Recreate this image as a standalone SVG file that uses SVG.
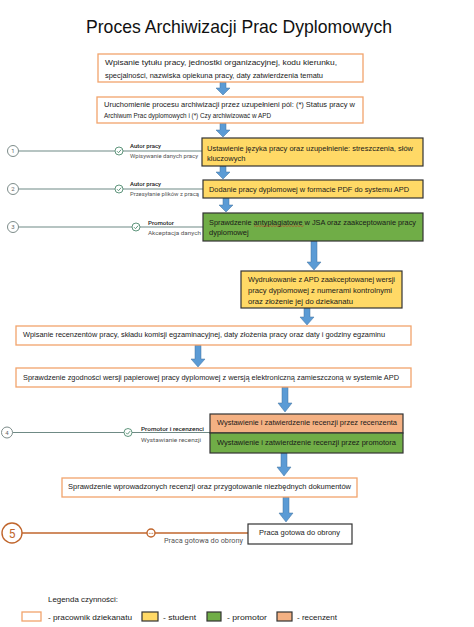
<svg xmlns="http://www.w3.org/2000/svg" width="474" height="627" viewBox="0 0 474 627">
<style>
.bg{fill:#ffffff}
.title{font-family:"Liberation Sans",Arial,sans-serif;font-size:19px;fill:#111}
.t{font-family:"Liberation Sans",Arial,sans-serif;font-size:7.5px;fill:#1a1a1a}
.tl{font-family:Roboto,"Liberation Sans",sans-serif;font-size:6px;fill:#555}
.tlb{font-family:Roboto,"Liberation Sans",sans-serif;font-size:6px;fill:#222;font-weight:500}
.dz{fill:#ffffff;stroke:#F2A46C;stroke-width:1.3}
.st{fill:#FFD966;stroke:#333;stroke-width:1.2}
.pr{fill:#70AD47;stroke:#333;stroke-width:1.2}
.rc{fill:#F4B183;stroke:#333;stroke-width:1.2}
.fin{fill:#ffffff;stroke:#333;stroke-width:1.2}
.arr{fill:#5B9BD5;stroke:#41719C;stroke-width:0.5}
.tline{stroke:#6F8A85;stroke-width:1.2;fill:none}
.tcirc{fill:#fff;stroke:#7D8C8A;stroke-width:1}
.tnum{font-family:Roboto,"Liberation Sans",sans-serif;font-size:6px;fill:#666;text-anchor:middle}
.chk{fill:#fff;stroke:#4E8A6E;stroke-width:0.9}
.chkm{fill:none;stroke:#4E8A6E;stroke-width:0.9}
.o5{stroke:#C0662D;stroke-width:1.3;fill:none}
.o5c{fill:#fff;stroke:#C0662D;stroke-width:1.4}
</style>
<rect class="bg" x="0" y="0" width="474" height="627"/>
<text class="title" x="86" y="33" textLength="306" lengthAdjust="spacingAndGlyphs">Proces Archiwizacji Prac Dyplomowych</text>

<g id="connectors">
<path class="arr" d="M220,82 L226,82 L226,88 L230,88 L223,95 L216,88 L220,88 Z"/>
<path class="arr" d="M220,123 L226,123 L226,130 L230,130 L223,137 L216,130 L220,130 Z"/>
<path class="arr" d="M220,166 L226,166 L226,172 L230,172 L223,179 L216,172 L220,172 Z"/>
<path class="arr" d="M223,198 L229,198 L229,205 L233,205 L226,212 L219,205 L223,205 Z"/>
<path class="arr" d="M311,241 L317,241 L317,262 L321,262 L314,270 L307,262 L311,262 Z"/>
<path class="arr" d="M304,308 L310,308 L310,317 L314,317 L307,325 L300,317 L304,317 Z"/>
<path class="arr" d="M195,345 L201,345 L201,359 L205,359 L198,367 L191,359 L195,359 Z"/>
<path class="arr" d="M282,387 L288,387 L288,403 L292,403 L285,412 L278,403 L282,403 Z"/>
<path class="arr" d="M281,453 L287,453 L287,467 L291,467 L284,476 L277,467 L281,467 Z"/>
<path class="arr" d="M283,497 L289,497 L289,513 L293,513 L286,522 L279,513 L283,513 Z"/>
</g>

<g id="timeline1">
<line class="tline" x1="18.5" y1="151" x2="115" y2="151"/>
<line class="tline" x1="123" y1="151" x2="202" y2="151"/>
<circle class="tcirc" cx="13" cy="151" r="5.5"/>
<text class="tnum" x="13" y="153.2">1</text>
<circle class="chk" cx="119" cy="151" r="4"/>
<path class="chkm" d="M117,151.2 L118.5,152.7 L121.2,149.6"/>
<text class="tlb" x="130" y="148" textLength="31" lengthAdjust="spacingAndGlyphs">Autor pracy</text>
<text class="tl" x="130" y="158" textLength="68" lengthAdjust="spacingAndGlyphs">Wpisywanie danych pracy</text>
</g>
<g id="timeline2">
<line class="tline" x1="18.5" y1="189" x2="115" y2="189"/>
<line class="tline" x1="123" y1="189" x2="203" y2="189"/>
<circle class="tcirc" cx="13" cy="189" r="5.5"/>
<text class="tnum" x="13" y="191.2">2</text>
<circle class="chk" cx="119" cy="189" r="4"/>
<path class="chkm" d="M117,189.2 L118.5,190.7 L121.2,187.6"/>
<text class="tlb" x="130" y="186" textLength="31" lengthAdjust="spacingAndGlyphs">Autor pracy</text>
<text class="tl" x="130" y="196" textLength="69" lengthAdjust="spacingAndGlyphs">Przesyłanie plików z pracą</text>
</g>
<g id="timeline3">
<line class="tline" x1="18.5" y1="227" x2="132" y2="227"/>
<line class="tline" x1="140" y1="227" x2="203" y2="227"/>
<circle class="tcirc" cx="13" cy="227" r="5.5"/>
<text class="tnum" x="13" y="229.2">3</text>
<circle class="chk" cx="136" cy="227" r="4"/>
<path class="chkm" d="M134,227.2 L135.5,228.7 L138.2,225.6"/>
<text class="tlb" x="148" y="224.5" textLength="26" lengthAdjust="spacingAndGlyphs">Promotor</text>
<text class="tl" x="148" y="234.5" textLength="53" lengthAdjust="spacingAndGlyphs">Akceptacja danych</text>
</g>
<g id="timeline4">
<line class="tline" x1="12.5" y1="432.5" x2="124" y2="432.5"/>
<line class="tline" x1="132" y1="432.5" x2="210" y2="432.5"/>
<circle class="tcirc" cx="7" cy="432.5" r="5.5"/>
<text class="tnum" x="7" y="434.7">4</text>
<circle class="chk" cx="128" cy="432.5" r="4"/>
<path class="chkm" d="M126,432.7 L127.5,434.2 L130.2,431.1"/>
<text class="tlb" x="141" y="430.5" textLength="63" lengthAdjust="spacingAndGlyphs">Promotor i recenzenci</text>
<text class="tl" x="141" y="441.5" textLength="60" lengthAdjust="spacingAndGlyphs">Wystawianie recenzji</text>
</g>
<g id="timeline5">
<line class="o5" x1="22" y1="533" x2="147" y2="533"/>
<line class="o5" x1="155" y1="533" x2="248" y2="533"/>
<circle class="o5c" cx="12" cy="533" r="10"/>
<text x="12" y="537.5" font-family="Roboto,'Liberation Sans',sans-serif" font-size="12" fill="#C0662D" text-anchor="middle">5</text>
<circle class="o5c" cx="151" cy="533" r="4" stroke-width="1.1"/>
<circle cx="149.3" cy="533.3" r="0.55" fill="#C0662D"/>
<circle cx="151" cy="533.3" r="0.55" fill="#C0662D"/>
<circle cx="152.7" cy="533.3" r="0.55" fill="#C0662D"/>
<text class="tl" x="164" y="542.5" textLength="79" lengthAdjust="spacingAndGlyphs" style="font-size:6.5px">Praca gotowa do obrony</text>
</g>

<g id="node1">
<rect class="dz" x="98" y="54" width="265" height="28"/>
<text class="t" x="105" y="64.5" textLength="232" lengthAdjust="spacingAndGlyphs">Wpisanie tytułu pracy, jednostki organizacyjnej, kodu kierunku,</text>
<text class="t" x="105" y="77.5" textLength="218" lengthAdjust="spacingAndGlyphs">specjalności, nazwiska opiekuna pracy, daty zatwierdzenia tematu</text>
</g>
<g id="node2">
<rect class="dz" x="97" y="97" width="266" height="26"/>
<text class="t" x="104" y="107" textLength="251" lengthAdjust="spacingAndGlyphs">Uruchomienie procesu archiwizacji przez uzupełnieni pól: (*) Status pracy w</text>
<text class="t" x="104" y="117.7" textLength="167" lengthAdjust="spacingAndGlyphs">Archiwum Prac dyplomowych i (*) Czy archiwizować w APD</text>
</g>
<g id="node3">
<rect class="st" x="202" y="138" width="221" height="28"/>
<text class="t" x="207" y="150.8" textLength="206" lengthAdjust="spacingAndGlyphs">Ustawienie języka pracy oraz uzupełnienie: streszczenia,  słów</text>
<text class="t" x="207" y="160.8">kluczowych</text>
</g>
<g id="node4">
<rect class="st" x="203" y="180" width="220" height="18"/>
<text class="t" x="209" y="191.8" textLength="200" lengthAdjust="spacingAndGlyphs">Dodanie pracy dyplomowej w formacie PDF do systemu APD</text>
</g>
<g id="node5">
<rect class="pr" x="203" y="213" width="220" height="28"/>
<text class="t" x="209" y="224.8" textLength="207" lengthAdjust="spacingAndGlyphs">Sprawdzenie antyplagiatowe w JSA oraz zaakceptowanie pracy</text>
<path d="M254,226.6 l1.5,-1 l1.5,1 l1.5,-1 l1.5,1 l1.5,-1 l1.5,1 l1.5,-1 l1.5,1 l1.5,-1 l1.5,1 l1.5,-1 l1.5,1 l1.5,-1 l1.5,1 l1.5,-1 l1.5,1 l1.5,-1 l1.5,1 l1.5,-1 l1.5,1 l1.5,-1 l1.5,1 l1.5,-1 l1.5,1 l1.5,-1 l1.5,1 l1.5,-1 l1.5,1 l1.5,-1 l1.5,1 l1.5,-1 l1.5,1 l1.5,-1" fill="none" stroke="#C0392B" stroke-width="0.6"/>
<text class="t" x="209" y="235.2">dyplomowej</text>
</g>
<g id="node6">
<rect class="st" x="241" y="271" width="161" height="37"/>
<text class="t" x="248" y="281.8" textLength="147" lengthAdjust="spacingAndGlyphs">Wydrukowanie z APD zaakceptowanej wersji</text>
<text class="t" x="248" y="292.5" textLength="144" lengthAdjust="spacingAndGlyphs">pracy dyplomowej z numerami kontrolnymi</text>
<text class="t" x="248" y="303.5" textLength="105" lengthAdjust="spacingAndGlyphs">oraz złożenie jej do dziekanatu</text>
</g>
<g id="node7">
<rect class="dz" x="16" y="326" width="395" height="19"/>
<text class="t" x="23" y="336.8" textLength="362" lengthAdjust="spacingAndGlyphs">Wpisanie recenzentów pracy, składu komisji egzaminacyjnej, daty złożenia pracy oraz daty i godziny egzaminu</text>
</g>
<g id="node8">
<rect class="dz" x="16" y="368" width="395" height="19"/>
<text class="t" x="23" y="379.8" textLength="376" lengthAdjust="spacingAndGlyphs">Sprawdzenie zgodności wersji papierowej pracy dyplomowej z wersją elektroniczną zamieszczoną w systemie APD</text>
</g>
<g id="node9">
<rect class="rc" x="210" y="414" width="193" height="19"/>
<text class="t" x="217" y="425" textLength="180" lengthAdjust="spacingAndGlyphs">Wystawienie i zatwierdzenie recenzji przez recenzenta</text>
</g>
<g id="node10">
<rect class="pr" x="210" y="433" width="193" height="20"/>
<text class="t" x="217" y="445.3" textLength="179" lengthAdjust="spacingAndGlyphs">Wystawienie i zatwierdzenie recenzji przez promotora</text>
</g>
<g id="node11">
<rect class="dz" x="62" y="478" width="295" height="19"/>
<text class="t" x="68" y="489.3" textLength="283" lengthAdjust="spacingAndGlyphs">Sprawdzenie wprowadzonych recenzji oraz przygotowanie niezbędnych dokumentów</text>
</g>
<g id="node12">
<rect class="fin" x="248" y="524" width="104" height="20"/>
<text class="t" x="259" y="535.3" textLength="81" lengthAdjust="spacingAndGlyphs">Praca gotowa do obrony</text>
</g>

<g id="legend">
<text class="t" x="48" y="601.8" textLength="70" lengthAdjust="spacingAndGlyphs">Legenda czynności:</text>
<rect class="dz" x="22" y="612" width="19" height="9"/>
<text class="t" x="48" y="619.8" textLength="84" lengthAdjust="spacingAndGlyphs">- pracownik dziekanatu</text>
<rect class="st" x="142" y="612" width="16" height="9"/>
<text class="t" x="163" y="619.8" textLength="33" lengthAdjust="spacingAndGlyphs">- student</text>
<rect class="pr" x="207" y="612" width="14" height="9"/>
<text class="t" x="227" y="619.8" textLength="40" lengthAdjust="spacingAndGlyphs">- promotor</text>
<rect class="rc" x="277" y="612" width="15" height="9"/>
<text class="t" x="297" y="619.8" textLength="40" lengthAdjust="spacingAndGlyphs">- recenzent</text>
</g>
</svg>
